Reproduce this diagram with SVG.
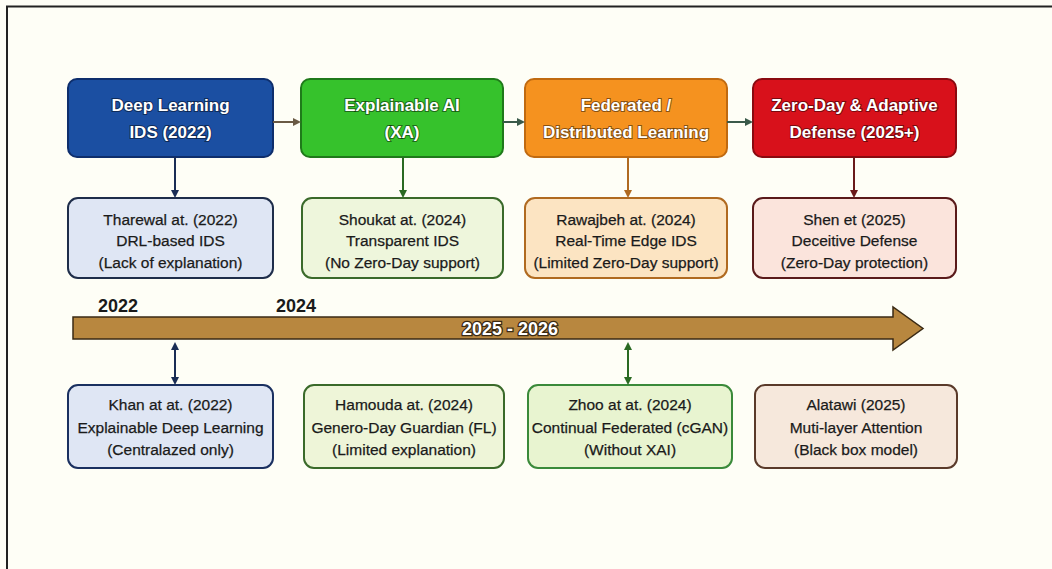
<svg xmlns="http://www.w3.org/2000/svg" width="1052" height="569" viewBox="0 0 1052 569">
<defs>
<style>
.t{font-family:"Liberation Sans",Arial,sans-serif;font-weight:bold;font-size:17px;fill:#fff;text-anchor:middle;paint-order:stroke;stroke:rgba(0,0,0,0.45);stroke-width:2px}
.m{font-family:"Liberation Sans",Arial,sans-serif;font-size:15.5px;fill:#1a1a1a;text-anchor:middle;stroke:#1a1a1a;stroke-width:0.25px}
.y{font-family:"Liberation Sans",Arial,sans-serif;font-size:18px;fill:#1a1a1a;font-weight:bold}
.c{fill:none;stroke-width:2}
</style>
<marker id="ab" markerWidth="8" markerHeight="8" refX="6" refY="4" orient="auto-start-reverse" markerUnits="userSpaceOnUse"><path d="M0,0 L8,4 L0,8 Z" fill="#1a2d55"/></marker>
<marker id="ag" markerWidth="8" markerHeight="8" refX="6" refY="4" orient="auto-start-reverse" markerUnits="userSpaceOnUse"><path d="M0,0 L8,4 L0,8 Z" fill="#2a6a22"/></marker>
<marker id="ao" markerWidth="8" markerHeight="8" refX="6" refY="4" orient="auto" markerUnits="userSpaceOnUse"><path d="M0,0 L8,4 L0,8 Z" fill="#b06a20"/></marker>
<marker id="ar" markerWidth="8" markerHeight="8" refX="6" refY="4" orient="auto" markerUnits="userSpaceOnUse"><path d="M0,0 L8,4 L0,8 Z" fill="#6a1a1a"/></marker>
<marker id="an" markerWidth="8" markerHeight="8" refX="6" refY="4" orient="auto" markerUnits="userSpaceOnUse"><path d="M0,0 L8,4 L0,8 Z" fill="#6a5a44"/></marker>
<marker id="at" markerWidth="8" markerHeight="8" refX="6" refY="4" orient="auto" markerUnits="userSpaceOnUse"><path d="M0,0 L8,4 L0,8 Z" fill="#3a5a4a"/></marker>
</defs>
<rect x="0" y="0" width="1052" height="569" fill="#fefef6"/>
<path d="M7,569 V6.5 H1052" fill="none" stroke="#222" stroke-width="2"/>

<g id="top1"><rect x="68" y="79" width="205" height="78" rx="9" fill="#1b4fa2" stroke="#0e2e6c" stroke-width="2"/><text class="t" x="170.5" y="111">Deep Learning</text><text class="t" x="170.5" y="138">IDS (2022)</text></g>
<g id="top2"><rect x="301" y="79" width="202" height="78" rx="9" fill="#36c22c" stroke="#1f7a1a" stroke-width="2"/><text class="t" x="402" y="111">Explainable AI</text><text class="t" x="402" y="138">(XA)</text></g>
<g id="top3"><rect x="525" y="79" width="202" height="78" rx="9" fill="#f5921f" stroke="#c06a10" stroke-width="2"/><text class="t" x="626" y="111">Federated /</text><text class="t" x="626" y="138">Distributed Learning</text></g>
<g id="top4"><rect x="753" y="79" width="203" height="78" rx="9" fill="#d8111b" stroke="#8a0a10" stroke-width="2"/><text class="t" x="854.5" y="111">Zero-Day &amp; Adaptive</text><text class="t" x="854.5" y="138">Defense (2025+)</text></g>

<g id="mid1"><rect x="68" y="198" width="205" height="80" rx="10" fill="#dfe6f4" stroke="#1e2d4a" stroke-width="2"/><text class="m" x="170.5" y="225">Tharewal at. (2022)</text><text class="m" x="170.5" y="246">DRL-based IDS</text><text class="m" x="170.5" y="268">(Lack of explanation)</text></g>
<g id="mid2"><rect x="302" y="198" width="201" height="80" rx="10" fill="#eef6dc" stroke="#3a6a2a" stroke-width="2"/><text class="m" x="402.5" y="225">Shoukat at. (2024)</text><text class="m" x="402.5" y="246">Transparent IDS</text><text class="m" x="402.5" y="268">(No Zero-Day support)</text></g>
<g id="mid3"><rect x="525" y="198" width="202" height="80" rx="10" fill="#fce4c2" stroke="#b06a20" stroke-width="2"/><text class="m" x="626" y="225">Rawajbeh at. (2024)</text><text class="m" x="626" y="246">Real-Time Edge IDS</text><text class="m" x="626" y="268">(Limited Zero-Day support)</text></g>
<g id="mid4"><rect x="753" y="198" width="203" height="80" rx="10" fill="#fbe4dc" stroke="#5a1a1a" stroke-width="2"/><text class="m" x="854.5" y="225">Shen et (2025)</text><text class="m" x="854.5" y="246">Deceitive Defense</text><text class="m" x="854.5" y="268">(Zero-Day protection)</text></g>

<g id="timeline">
<path d="M73,317 H893 V307 L923,328.5 L893,350 V339 H73 Z" fill="#b8873f" stroke="#3a2a14" stroke-width="1.5"/>
<text class="y" x="98" y="312">2022</text>
<text class="y" x="276" y="312">2024</text>
<text x="510" y="335" font-family="'Liberation Sans',Arial,sans-serif" font-weight="bold" font-size="18" fill="#fff" text-anchor="middle" stroke="#3a2a14" stroke-width="2.5" paint-order="stroke">2025 - 2026</text>
</g>

<g id="bot1"><rect x="68" y="385" width="205" height="83" rx="10" fill="#dfe6f4" stroke="#1a3060" stroke-width="2"/><text class="m" x="170.5" y="410">Khan at at. (2022)</text><text class="m" x="170.5" y="433">Explainable Deep Learning</text><text class="m" x="170.5" y="455">(Centralazed only)</text></g>
<g id="bot2"><rect x="304" y="385" width="200" height="83" rx="10" fill="#eef5d8" stroke="#3a6a2a" stroke-width="2"/><text class="m" x="404" y="410">Hamouda at. (2024)</text><text class="m" x="404" y="433">Genero-Day Guardian (FL)</text><text class="m" x="404" y="455">(Limited explanation)</text></g>
<g id="bot3"><rect x="528" y="385" width="204" height="83" rx="10" fill="#e8f4d0" stroke="#3a8a3a" stroke-width="2"/><text class="m" x="630" y="410">Zhoo at at. (2024)</text><text class="m" x="630" y="433">Continual Federated (cGAN)</text><text class="m" x="630" y="455">(Without XAI)</text></g>
<g id="bot4"><rect x="755" y="385" width="202" height="83" rx="10" fill="#f6e8dc" stroke="#5a3a2a" stroke-width="2"/><text class="m" x="856" y="410">Alatawi (2025)</text><text class="m" x="856" y="433">Muti-layer Attention</text><text class="m" x="856" y="455">(Black box model)</text></g>

<g id="connectors">
<line class="c" x1="273" y1="122" x2="299" y2="122" stroke="#6a5a44" marker-end="url(#an)"/>
<line class="c" x1="503" y1="122" x2="523" y2="122" stroke="#3a5a4a" marker-end="url(#at)"/>
<line class="c" x1="727" y1="122" x2="751" y2="122" stroke="#3a5a4a" marker-end="url(#at)"/>
<line class="c" x1="175" y1="157" x2="175" y2="196" stroke="#1a2d55" marker-end="url(#ab)"/>
<line class="c" x1="403" y1="157" x2="403" y2="196" stroke="#2a6a22" marker-end="url(#ag)"/>
<line class="c" x1="628" y1="157" x2="628" y2="196" stroke="#b06a20" marker-end="url(#ao)"/>
<line class="c" x1="854" y1="157" x2="854" y2="196" stroke="#6a1a1a" marker-end="url(#ar)"/>
<line class="c" x1="175" y1="344" x2="175" y2="383" stroke="#1a2d55" marker-start="url(#ab)" marker-end="url(#ab)"/>
<line class="c" x1="628" y1="344" x2="628" y2="383" stroke="#2a6a22" marker-start="url(#ag)" marker-end="url(#ag)"/>
</g>
</svg>
